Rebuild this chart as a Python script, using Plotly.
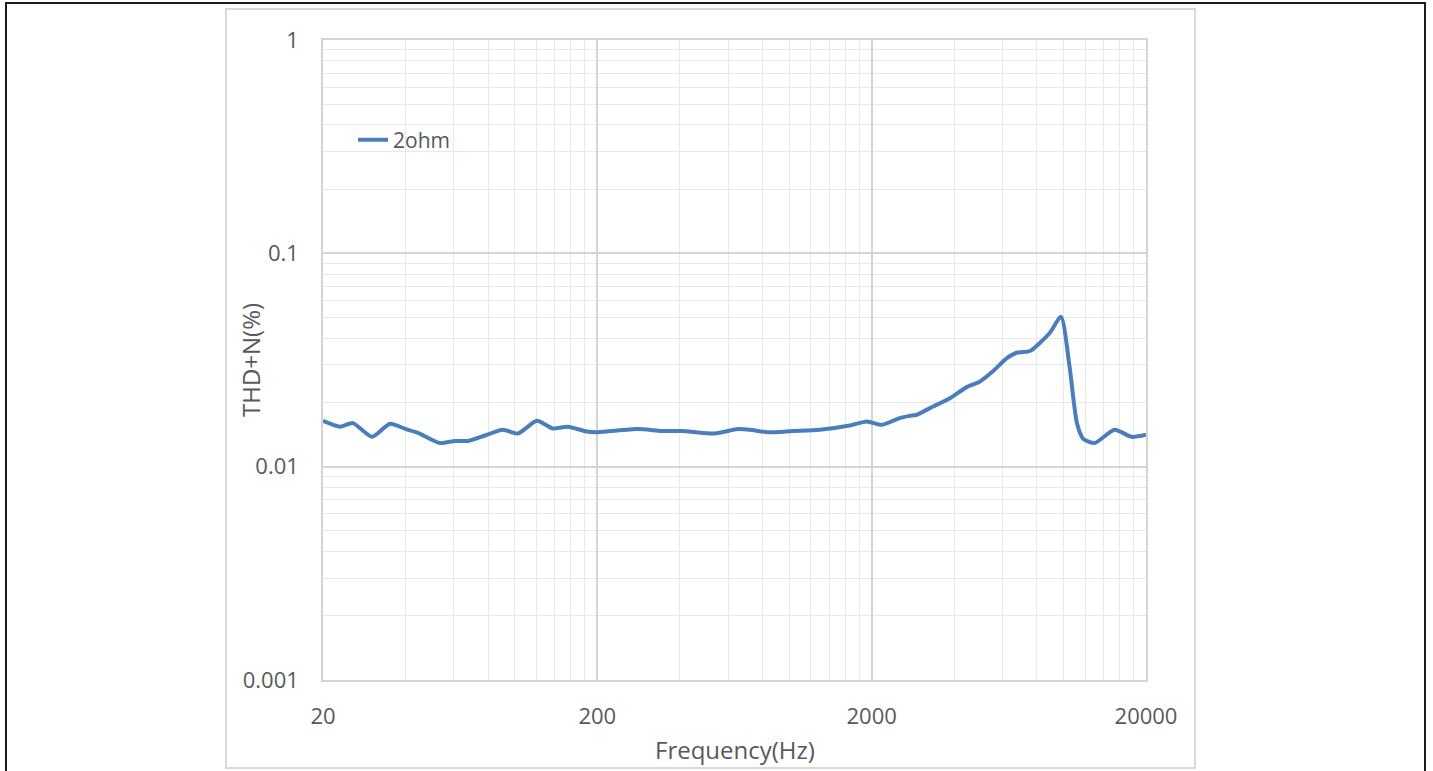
import plotly.graph_objects as go

# ---- data ----
freq_hz = [20, 23.1, 25.7, 30.2, 35.1, 40.1, 44.4, 53.4, 60.5, 67.5, 77.9, 90.5,
           102.7, 120.4, 137.7, 156.1, 183, 200.8, 280.9, 343.6, 406.3, 535.9,
           650, 719, 836, 1031, 1293, 1663, 1920, 2175, 2530, 2750, 2917, 3337,
           3849, 4438, 4948, 5518, 6206, 6750, 7402, 7655, 8904, 9800, 10530,
           11200, 11800, 12986, 15353, 17710, 20000]
thdn_pct = [0.0164, 0.0154, 0.0160, 0.0138, 0.0159, 0.0150, 0.0144, 0.0129, 0.0132,
            0.0132, 0.0140, 0.0149, 0.0143, 0.0164, 0.0151, 0.0154, 0.0146, 0.0145,
            0.0150, 0.0147, 0.0147, 0.0143, 0.0150, 0.0149, 0.0145, 0.0147, 0.0149,
            0.0156, 0.0163, 0.0157, 0.0169, 0.0173, 0.0175, 0.0191, 0.0209, 0.0236,
            0.0250, 0.0279, 0.0322, 0.0342, 0.0346, 0.0352, 0.0422, 0.0505, 0.0294,
            0.0160, 0.0135, 0.0129, 0.0149, 0.0138, 0.0141]
series_name = "2ohm"

x_major = [20, 200, 2000, 20000]
x_major_text = ["20", "200", "2000", "20000"]
y_major = [0.001, 0.01, 0.1, 1]
y_major_text = ["0.001", "0.01", "0.1", "1"]
x_minor = [m * d for d in (20, 200, 2000) for m in range(2, 10)]
y_minor = [m * d for d in (0.001, 0.01, 0.1) for m in range(2, 10)]

x_title = "Frequency(Hz)"
y_title = "THD+N(%)"

FONT = "Open Sans"
TXT = "#595959"
MAJOR = "#d4d4d4"
MINOR = "#e8e8e8"

fig = go.Figure()
fig.add_trace(go.Scatter(
    x=freq_hz, y=thdn_pct, mode="lines", name=series_name,
    line=dict(color="#4A7EBB", width=4, shape="spline", smoothing=0.6),
))

L, R, T, B = 323, 287, 40, 91
W, H = 1433, 771
pw, ph = W - L - R, H - T - B

def px_x(p):
    return (p - L) / pw

def px_y(p):
    return (H - B - p) / ph

fig.update_layout(
    width=W, height=H,
    margin=dict(l=L, r=R, t=T, b=B, autoexpand=False),
    paper_bgcolor="white", plot_bgcolor="white",
    font=dict(family=FONT, size=21, color=TXT),
    showlegend=True,
    legend=dict(x=px_x(353), y=px_y(140), xanchor="left", yanchor="middle",
                bgcolor="rgba(0,0,0,0)", font=dict(size=21, color=TXT)),
    xaxis=dict(type="log", range=[1.30103, 4.30103],
               tickvals=x_major, ticktext=x_major_text,
               showgrid=True, gridcolor=MAJOR, gridwidth=1.5,
               minor=dict(tickvals=x_minor, showgrid=True, gridcolor=MINOR, gridwidth=1.2),
               showline=True, mirror=True, linecolor=MAJOR, linewidth=1.5,
               zeroline=False, ticks="", ticklabelstandoff=16,
               tickfont=dict(size=22, color=TXT)),
    yaxis=dict(type="log", range=[-3, 0],
               tickvals=y_major, ticktext=y_major_text,
               showgrid=True, gridcolor=MAJOR, gridwidth=1.5,
               minor=dict(tickvals=y_minor, showgrid=True, gridcolor=MINOR, gridwidth=1.2),
               showline=True, mirror=True, linecolor=MAJOR, linewidth=1.5,
               zeroline=False, ticks="", ticklabelstandoff=18,
               tickfont=dict(size=22, color=TXT)),
    annotations=[
        dict(text=x_title, xref="paper", yref="paper", x=px_x(735), y=px_y(749),
             xanchor="center", yanchor="middle", showarrow=False,
             font=dict(family=FONT, size=24, color=TXT)),
        dict(text=y_title, xref="paper", yref="paper", x=px_x(250), y=px_y(360),
             xanchor="center", yanchor="middle", showarrow=False, textangle=-90,
             font=dict(family=FONT, size=24, color=TXT)),
    ],
    shapes=[
        dict(type="rect", xref="paper", yref="paper",
             x0=px_x(226), x1=px_x(1195), y0=px_y(768), y1=px_y(9),
             line=dict(color="#d9d9d9", width=2), fillcolor="rgba(0,0,0,0)", layer="below"),
        dict(type="rect", xref="paper", yref="paper",
             x0=px_x(6), x1=px_x(1425), y0=px_y(790), y1=px_y(3),
             line=dict(color="#1a1a1a", width=2), fillcolor="rgba(0,0,0,0)", layer="below"),
    ],
)

fig.write_html("out.html")
